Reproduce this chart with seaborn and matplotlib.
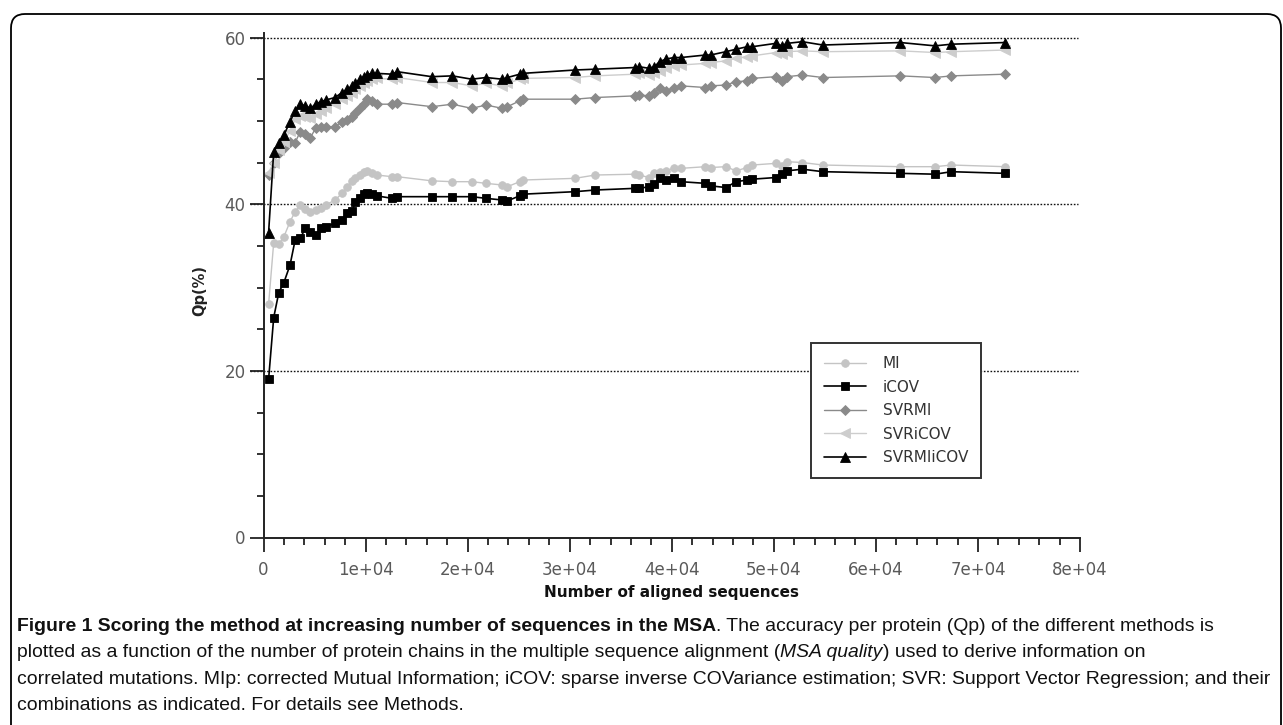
import numpy as np
import pandas as pd
import matplotlib
matplotlib.use("Agg")
import matplotlib.pyplot as plt
import seaborn as sns
from matplotlib import font_manager
from matplotlib.ticker import MultipleLocator
from matplotlib.patches import FancyBboxPatch

sns.set_style("ticks")
plt.rcParams["font.family"] = ["DejaVu Sans"]

# === DATA ===
n_seq = [500, 1000, 1500, 2000, 2600, 3100, 3600, 4100, 4600, 5100, 5600, 6100,
         7000, 7700, 8200, 8700, 9000, 9500, 9800, 10100, 10600, 11100, 12600, 13100,
         16500, 18500, 20400, 21800, 23400, 23900, 25100, 25400, 30500, 32500,
         36400, 36800, 37800, 38300, 38800, 39400, 40200, 40900, 43300, 43800,
         45300, 46300, 47400, 47900, 50200, 50800, 51300, 52800, 54800, 62400,
         65800, 67400, 72700]

mi = [28.0, 35.4, 35.2, 36.1, 37.9, 39.1, 39.9, 39.4, 39.1, 39.3, 39.5, 39.9,
      40.5, 41.3, 42.1, 42.8, 43.2, 43.5, 43.9, 44.0, 43.7, 43.5, 43.3, 43.3,
      42.8, 42.7, 42.7, 42.5, 42.3, 42.1, 42.7, 42.9, 43.1, 43.5,
      43.6, 43.5, 43.2, 43.7, 43.9, 44.0, 44.3, 44.3, 44.5, 44.4,
      44.5, 44.0, 44.4, 44.7, 44.9, 44.6, 45.1, 45.0, 44.7, 44.5,
      44.5, 44.7, 44.5]

icov = [19.0, 26.4, 29.4, 30.6, 32.7, 35.7, 35.9, 37.1, 36.7, 36.3, 37.1, 37.3,
        37.7, 38.1, 38.9, 39.2, 40.3, 40.7, 41.2, 41.4, 41.2, 41.0, 40.7, 40.9,
        40.9, 40.9, 40.9, 40.7, 40.5, 40.4, 41.0, 41.2, 41.5, 41.7,
        41.9, 41.9, 42.1, 42.4, 43.1, 42.9, 43.1, 42.7, 42.5, 42.2,
        42.0, 42.7, 42.9, 43.0, 43.2, 43.6, 44.0, 44.2, 43.9, 43.7,
        43.6, 43.9, 43.7]

svrmi = [43.5, 45.0, 46.2, 46.8, 47.5, 47.4, 48.7, 48.4, 48.0, 49.1, 49.3, 49.3,
         49.3, 49.9, 50.1, 50.5, 50.9, 51.5, 52.0, 52.6, 52.4, 52.0, 52.0, 52.2,
         51.7, 52.0, 51.5, 51.9, 51.5, 51.7, 52.4, 52.6, 52.6, 52.8,
         53.0, 53.1, 53.0, 53.4, 53.9, 53.6, 53.9, 54.2, 54.0, 54.2,
         54.3, 54.7, 54.8, 55.1, 55.3, 54.8, 55.3, 55.5, 55.2, 55.4,
         55.2, 55.4, 55.6]

svricov = [43.8, 45.0, 46.5, 47.5, 48.8, 50.2, 50.6, 50.5, 50.3, 50.8, 51.2, 51.6,
           52.0, 52.6, 53.0, 53.4, 53.8, 54.2, 54.5, 54.8, 55.0, 55.1, 55.0, 55.2,
           54.6, 54.6, 54.2, 54.5, 54.2, 54.5, 55.0, 55.1, 55.2, 55.4,
           55.6, 55.7, 55.5, 55.7, 56.0, 56.3, 56.6, 56.7, 56.9, 57.0,
           57.2, 57.5, 57.7, 57.8, 58.2, 58.0, 58.3, 58.4, 58.3, 58.4,
           58.2, 58.3, 58.5]

svrmiicov = [36.6, 46.3, 47.3, 48.3, 49.9, 51.2, 52.0, 51.8, 51.5, 52.0, 52.3, 52.5,
             52.8, 53.4, 53.8, 54.2, 54.6, 55.0, 55.3, 55.5, 55.7, 55.7, 55.6, 55.9,
             55.3, 55.4, 55.0, 55.2, 55.0, 55.2, 55.6, 55.7, 56.1, 56.2,
             56.4, 56.5, 56.3, 56.5, 57.1, 57.4, 57.6, 57.6, 57.9, 57.9,
             58.3, 58.6, 58.9, 58.9, 59.3, 59.0, 59.3, 59.5, 59.1, 59.4,
             59.0, 59.2, 59.4]

methods = ["MI", "iCOV", "SVRMI", "SVRiCOV", "SVRMIiCOV"]
x_tick_labels = ["0", "1e+04", "2e+04", "3e+04", "4e+04", "5e+04", "6e+04", "7e+04", "8e+04"]

caption_lines = [
    [("Figure 1 Scoring the method at increasing number of sequences in the MSA", "bold"),
     (". The accuracy per protein (Qp) of the different methods is", "normal")],
    [("plotted as a function of the number of protein chains in the multiple sequence alignment (", "normal"),
     ("MSA quality", "italic"),
     (") used to derive information on", "normal")],
    [("correlated mutations. MIp: corrected Mutual Information; iCOV: sparse inverse COVariance "
      "estimation; SVR: Support Vector Regression; and their", "normal")],
    [("combinations as indicated. For details see Methods.", "normal")],
]

# long-form table for seaborn
df = pd.concat([
    pd.DataFrame({"n": n_seq, "qp": vals, "method": name})
    for name, vals in zip(methods, [mi, icov, svrmi, svricov, svrmiicov])
], ignore_index=True)

styles = {
    "MI":        dict(color="#c4c4c4", marker="o", markersize=5.5, lw=1.0),
    "iCOV":      dict(color="#000000", marker="s", markersize=6.3, lw=1.2),
    "SVRMI":     dict(color="#8a8a8a", marker="D", markersize=5.0, lw=1.0),
    "SVRiCOV":   dict(color="#cdcdcd", marker="<", markersize=7.0, lw=1.0),
    "SVRMIiCOV": dict(color="#000000", marker="^", markersize=7.5, lw=1.2),
}

# === FIGURE ===
fig = plt.figure(figsize=(12.83, 7.25), dpi=100)
W, H = 1283, 725
left, right, bottom, top = 263.5, 1080, 537.5, 33
ax = fig.add_axes([left / W, 1 - bottom / H, (right - left) / W, (bottom - top) / H])

for name in methods:
    st = styles[name]
    sns.lineplot(data=df[df["method"] == name], x="n", y="qp", ax=ax,
                 color=st["color"], marker=st["marker"], markersize=st["markersize"],
                 markeredgecolor=st["color"], markeredgewidth=0.6,
                 linewidth=st["lw"], label=name, errorbar=None)

ax.set_xlim(0, 80000)
ax.set_ylim(0, 60 + 4.5 / 8.28)

# dotted reference lines, starting at the major tick like in the original
for yv in [20, 40, 60]:
    ax.hlines(yv, -0.016, 0.998, transform=ax.get_yaxis_transform(), clip_on=False,
              color="#111111", linestyle=(0, (1.2, 1.2)), linewidth=1.0, zorder=0.5)

ax.set_xticks(np.arange(0, 80001, 10000))
ax.set_xticklabels(x_tick_labels)
ax.xaxis.set_minor_locator(MultipleLocator(2000))
ax.set_yticks([0, 20, 40, 60])
ax.yaxis.set_minor_locator(MultipleLocator(5))
ax.tick_params(which="major", length=10, width=1.3, color="#222222",
               labelsize=12, labelcolor="#5a5a5a", pad=3)
ax.tick_params(which="minor", length=5, width=1.3, color="#222222")
ax.tick_params(axis="x", which="major", pad=7)

for s in ["top", "right"]:
    ax.spines[s].set_visible(False)
for s in ["left", "bottom"]:
    ax.spines[s].set_linewidth(1.4)
    ax.spines[s].set_color("#222222")

ax.set_xlabel("Number of aligned sequences", fontsize=11, fontweight="bold",
              color="#111111")
ax.xaxis.set_label_coords(0.5, -(593 - 537.5) / 504.5)
ax.xaxis.label.set_va("center")
ax.set_ylabel("Qp(%)", fontsize=10.5, fontweight="bold", color="#222222")
ax.yaxis.set_label_coords(-(263.5 - 200) / 816.5, (537.5 - 290) / 504.5)
ax.yaxis.label.set_va("center")

leg = ax.legend(loc="upper left", bbox_to_anchor=((811 - 263.5) / 816.5, (537.5 - 343) / 504.5),
                borderaxespad=0, fancybox=False, framealpha=1,
                edgecolor="#333333", fontsize=11, handlelength=2.75,
                labelspacing=0.56, borderpad=0.85, handletextpad=1.1)
leg.get_frame().set_linewidth(1.4)
for t in leg.get_texts():
    t.set_color("#333333")

# rounded border around the figure panel
fig.patches.append(FancyBboxPatch((11 / 100, -0.5), (1281 - 11) / 100, 7.25 - 14 / 100 + 0.5,
                                  boxstyle="round,pad=0,rounding_size=0.14",
                                  transform=fig.dpi_scale_trans, fill=False,
                                  edgecolor="black", linewidth=1.3))

# === CAPTION (mixed bold / italic runs) ===
cap_family, cap_stretch = "Liberation Sans", "normal"
for f in font_manager.fontManager.ttflist:
    if f.name == "Liberation Sans Narrow":
        cap_family, cap_stretch = "Liberation Sans Narrow", "normal"
        break
    if f.name == "Noto Sans" and f.stretch in ("condensed", 75, "semi-condensed", 87.5):
        cap_family, cap_stretch = "Noto Sans", "condensed"

fig.canvas.draw()
renderer = fig.canvas.get_renderer()


def draw_line(pieces, x0, y0, size):
    x = x0
    objs = []
    for text, style in pieces:
        kw = dict(fontsize=size, family=[cap_family, "DejaVu Sans"], color="#111111",
                  va="baseline", ha="left", fontstretch=cap_stretch)
        if style == "bold":
            kw["fontweight"] = "bold"
        if style == "italic":
            kw["fontstyle"] = "italic"
        t = fig.text(x / W, 1 - y0 / H, text, **kw)
        objs.append(t)
        x += t.get_window_extent(renderer).width
    return objs, x - x0


# fit the two full-width lines to the width they take in the reference
size = 13.0
widest = 0
for pieces in (caption_lines[0], caption_lines[2]):
    objs, width = draw_line(pieces, 17, 631, size)
    widest = max(widest, width)
    for o in objs:
        o.remove()
size = size * (1266 - 17) / widest

for i, pieces in enumerate(caption_lines):
    draw_line(pieces, 17, 631 + i * 26.3, size)

fig.savefig("out.png", dpi=100)
